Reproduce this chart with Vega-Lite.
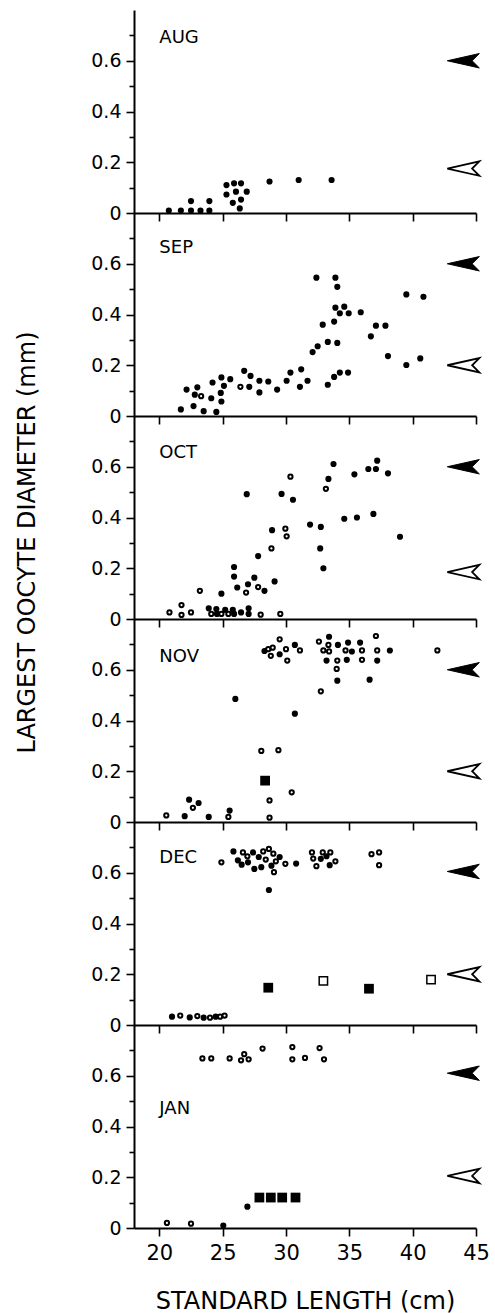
{
"$schema": "https://vega.github.io/schema/vega-lite/v6.json",
"bounds": "flush",
"spacing": 0,
"padding": {"left": 14, "top": 10, "right": 5, "bottom": 0},
"config": {"view": {"stroke": null}, "font": "DejaVu Sans",
 "axis": {"domainColor": "black", "domainWidth": 2, "tickColor": "black", "tickWidth": 1.6, "labelColor": "black", "titleColor": "black", "labelFont": "DejaVu Sans", "titleFont": "DejaVu Sans", "grid": false, "titleFontWeight": "normal"}},
"data": {"values": [
{"month":"AUG","sl":20.75,"od":0.01,"type":"f"},{"month":"AUG","sl":21.7,"od":0.01,"type":"f"},{"month":"AUG","sl":22.5,"od":0.047,"type":"f"},{"month":"AUG","sl":22.5,"od":0.01,"type":"f"},{"month":"AUG","sl":23.25,"od":0.01,"type":"f"},{"month":"AUG","sl":23.95,"od":0.047,"type":"f"},{"month":"AUG","sl":23.95,"od":0.01,"type":"f"},{"month":"AUG","sl":25.3,"od":0.11,"type":"f"},{"month":"AUG","sl":25.3,"od":0.073,"type":"f"},{"month":"AUG","sl":25.9,"od":0.117,"type":"f"},{"month":"AUG","sl":26.45,"od":0.117,"type":"f"},{"month":"AUG","sl":26.05,"od":0.084,"type":"f"},{"month":"AUG","sl":26.9,"od":0.084,"type":"f"},{"month":"AUG","sl":25.8,"od":0.04,"type":"f"},{"month":"AUG","sl":26.45,"od":0.053,"type":"f"},{"month":"AUG","sl":26.35,"od":0.018,"type":"f"},{"month":"AUG","sl":28.7,"od":0.124,"type":"f"},{"month":"AUG","sl":31.0,"od":0.13,"type":"f"},{"month":"AUG","sl":33.6,"od":0.13,"type":"f"},
{"month":"AUG","sl":44,"od":0.6,"type":"a"},{"month":"AUG","sl":44,"od":0.175,"type":"b"},{"month":"AUG","sl":20,"od":0.69,"type":"lab"},
{"month":"SEP","sl":21.7,"od":0.026,"type":"f"},{"month":"SEP","sl":22.15,"od":0.104,"type":"f"},{"month":"SEP","sl":22.7,"od":0.039,"type":"f"},{"month":"SEP","sl":23.0,"od":0.113,"type":"f"},{"month":"SEP","sl":22.8,"od":0.084,"type":"f"},{"month":"SEP","sl":23.3,"od":0.078,"type":"o"},{"month":"SEP","sl":23.5,"od":0.019,"type":"f"},{"month":"SEP","sl":24.1,"od":0.07,"type":"f"},{"month":"SEP","sl":24.2,"od":0.132,"type":"f"},{"month":"SEP","sl":24.5,"od":0.016,"type":"f"},{"month":"SEP","sl":24.85,"od":0.091,"type":"f"},{"month":"SEP","sl":24.9,"od":0.152,"type":"f"},{"month":"SEP","sl":24.9,"od":0.057,"type":"f"},{"month":"SEP","sl":25.1,"od":0.119,"type":"f"},{"month":"SEP","sl":25.6,"od":0.145,"type":"f"},{"month":"SEP","sl":26.4,"od":0.115,"type":"o"},{"month":"SEP","sl":26.7,"od":0.178,"type":"f"},{"month":"SEP","sl":27.2,"od":0.158,"type":"f"},{"month":"SEP","sl":27.1,"od":0.115,"type":"f"},{"month":"SEP","sl":27.9,"od":0.139,"type":"f"},{"month":"SEP","sl":27.9,"od":0.093,"type":"f"},{"month":"SEP","sl":28.6,"od":0.136,"type":"f"},{"month":"SEP","sl":29.3,"od":0.104,"type":"f"},{"month":"SEP","sl":30.05,"od":0.139,"type":"f"},{"month":"SEP","sl":30.35,"od":0.171,"type":"f"},{"month":"SEP","sl":31.1,"od":0.115,"type":"f"},{"month":"SEP","sl":31.2,"od":0.184,"type":"f"},{"month":"SEP","sl":31.7,"od":0.139,"type":"f"},{"month":"SEP","sl":32.1,"od":0.252,"type":"f"},{"month":"SEP","sl":32.5,"od":0.275,"type":"f"},{"month":"SEP","sl":32.4,"od":0.545,"type":"f"},{"month":"SEP","sl":32.9,"od":0.36,"type":"f"},{"month":"SEP","sl":33.3,"od":0.123,"type":"f"},{"month":"SEP","sl":33.3,"od":0.292,"type":"f"},{"month":"SEP","sl":33.8,"od":0.372,"type":"f"},{"month":"SEP","sl":33.8,"od":0.154,"type":"f"},{"month":"SEP","sl":33.9,"od":0.545,"type":"f"},{"month":"SEP","sl":34.05,"od":0.509,"type":"f"},{"month":"SEP","sl":34.05,"od":0.288,"type":"f"},{"month":"SEP","sl":33.9,"od":0.427,"type":"f"},{"month":"SEP","sl":34.25,"od":0.171,"type":"f"},{"month":"SEP","sl":34.25,"od":0.405,"type":"f"},{"month":"SEP","sl":34.6,"od":0.431,"type":"f"},{"month":"SEP","sl":34.95,"od":0.405,"type":"f"},{"month":"SEP","sl":34.9,"od":0.171,"type":"f"},{"month":"SEP","sl":35.9,"od":0.409,"type":"f"},{"month":"SEP","sl":36.7,"od":0.314,"type":"f"},{"month":"SEP","sl":37.1,"od":0.356,"type":"f"},{"month":"SEP","sl":37.85,"od":0.356,"type":"f"},{"month":"SEP","sl":38.05,"od":0.236,"type":"f"},{"month":"SEP","sl":39.5,"od":0.479,"type":"f"},{"month":"SEP","sl":39.5,"od":0.201,"type":"f"},{"month":"SEP","sl":40.6,"od":0.227,"type":"f"},{"month":"SEP","sl":40.85,"od":0.47,"type":"f"},
{"month":"SEP","sl":44,"od":0.6,"type":"a"},{"month":"SEP","sl":44,"od":0.2,"type":"b"},{"month":"SEP","sl":20,"od":0.664,"type":"lab"},
{"month":"OCT","sl":20.8,"od":0.026,"type":"o"},{"month":"OCT","sl":21.75,"od":0.055,"type":"o"},{"month":"OCT","sl":21.75,"od":0.016,"type":"o"},{"month":"OCT","sl":22.5,"od":0.026,"type":"o"},{"month":"OCT","sl":23.2,"od":0.111,"type":"o"},{"month":"OCT","sl":26.85,"od":0.104,"type":"o"},{"month":"OCT","sl":27.8,"od":0.126,"type":"o"},{"month":"OCT","sl":28.85,"od":0.278,"type":"o"},{"month":"OCT","sl":29.95,"od":0.356,"type":"o"},{"month":"OCT","sl":30.05,"od":0.326,"type":"o"},{"month":"OCT","sl":30.35,"od":0.561,"type":"o"},{"month":"OCT","sl":33.15,"od":0.513,"type":"o"},{"month":"OCT","sl":24.1,"od":0.02,"type":"o"},{"month":"OCT","sl":24.9,"od":0.02,"type":"o"},{"month":"OCT","sl":25.45,"od":0.02,"type":"o"},{"month":"OCT","sl":28.0,"od":0.017,"type":"o"},{"month":"OCT","sl":29.55,"od":0.02,"type":"o"},
{"month":"OCT","sl":23.9,"od":0.042,"type":"f"},{"month":"OCT","sl":24.5,"od":0.039,"type":"f"},{"month":"OCT","sl":24.55,"od":0.02,"type":"f"},{"month":"OCT","sl":25.2,"od":0.036,"type":"f"},{"month":"OCT","sl":25.8,"od":0.036,"type":"f"},{"month":"OCT","sl":25.9,"od":0.02,"type":"f"},{"month":"OCT","sl":26.45,"od":0.026,"type":"f"},{"month":"OCT","sl":27.05,"od":0.042,"type":"f"},{"month":"OCT","sl":27.05,"od":0.02,"type":"f"},{"month":"OCT","sl":24.9,"od":0.1,"type":"f"},{"month":"OCT","sl":25.9,"od":0.205,"type":"f"},{"month":"OCT","sl":25.9,"od":0.167,"type":"f"},{"month":"OCT","sl":26.15,"od":0.124,"type":"f"},{"month":"OCT","sl":27.0,"od":0.137,"type":"f"},{"month":"OCT","sl":26.9,"od":0.492,"type":"f"},{"month":"OCT","sl":27.5,"od":0.163,"type":"f"},{"month":"OCT","sl":27.8,"od":0.248,"type":"f"},{"month":"OCT","sl":28.3,"od":0.111,"type":"f"},{"month":"OCT","sl":28.9,"od":0.35,"type":"f"},{"month":"OCT","sl":29.1,"od":0.148,"type":"f"},{"month":"OCT","sl":29.65,"od":0.493,"type":"f"},{"month":"OCT","sl":30.55,"od":0.47,"type":"f"},{"month":"OCT","sl":31.9,"od":0.372,"type":"f"},{"month":"OCT","sl":32.7,"od":0.278,"type":"f"},{"month":"OCT","sl":32.75,"od":0.363,"type":"f"},{"month":"OCT","sl":32.95,"od":0.2,"type":"f"},{"month":"OCT","sl":33.35,"od":0.552,"type":"f"},{"month":"OCT","sl":33.75,"od":0.611,"type":"f"},{"month":"OCT","sl":34.6,"od":0.395,"type":"f"},{"month":"OCT","sl":35.4,"od":0.57,"type":"f"},{"month":"OCT","sl":35.6,"od":0.4,"type":"f"},{"month":"OCT","sl":36.5,"od":0.591,"type":"f"},{"month":"OCT","sl":36.9,"od":0.414,"type":"f"},{"month":"OCT","sl":37.1,"od":0.591,"type":"f"},{"month":"OCT","sl":37.2,"od":0.624,"type":"f"},{"month":"OCT","sl":38.05,"od":0.574,"type":"f"},{"month":"OCT","sl":39.0,"od":0.324,"type":"f"},
{"month":"OCT","sl":44,"od":0.6,"type":"a"},{"month":"OCT","sl":44,"od":0.185,"type":"b"},{"month":"OCT","sl":20,"od":0.655,"type":"lab"},
{"month":"NOV","sl":22.0,"od":0.023,"type":"f"},{"month":"NOV","sl":22.35,"od":0.088,"type":"f"},{"month":"NOV","sl":23.1,"od":0.075,"type":"f"},{"month":"NOV","sl":23.9,"od":0.02,"type":"f"},{"month":"NOV","sl":25.55,"od":0.045,"type":"f"},{"month":"NOV","sl":26.0,"od":0.485,"type":"f"},{"month":"NOV","sl":30.7,"od":0.427,"type":"f"},{"month":"NOV","sl":34.05,"od":0.557,"type":"f"},{"month":"NOV","sl":36.6,"od":0.561,"type":"f"},{"month":"NOV","sl":28.3,"od":0.674,"type":"f"},{"month":"NOV","sl":29.5,"od":0.661,"type":"f"},{"month":"NOV","sl":30.7,"od":0.698,"type":"f"},{"month":"NOV","sl":33.4,"od":0.73,"type":"f"},{"month":"NOV","sl":34.1,"od":0.698,"type":"f"},{"month":"NOV","sl":33.2,"od":0.636,"type":"f"},{"month":"NOV","sl":34.8,"od":0.639,"type":"f"},{"month":"NOV","sl":34.9,"od":0.707,"type":"f"},{"month":"NOV","sl":35.2,"od":0.672,"type":"f"},{"month":"NOV","sl":35.85,"od":0.707,"type":"f"},{"month":"NOV","sl":37.2,"od":0.636,"type":"f"},{"month":"NOV","sl":38.2,"od":0.676,"type":"f"},
{"month":"NOV","sl":20.55,"od":0.026,"type":"o"},{"month":"NOV","sl":22.65,"od":0.056,"type":"o"},{"month":"NOV","sl":25.45,"od":0.02,"type":"o"},{"month":"NOV","sl":28.05,"od":0.28,"type":"o"},{"month":"NOV","sl":28.7,"od":0.085,"type":"o"},{"month":"NOV","sl":28.7,"od":0.017,"type":"o"},{"month":"NOV","sl":29.4,"od":0.283,"type":"o"},{"month":"NOV","sl":30.45,"od":0.117,"type":"o"},{"month":"NOV","sl":32.75,"od":0.515,"type":"o"},{"month":"NOV","sl":34.0,"od":0.603,"type":"o"},{"month":"NOV","sl":28.6,"od":0.681,"type":"o"},{"month":"NOV","sl":28.95,"od":0.687,"type":"o"},{"month":"NOV","sl":28.8,"od":0.655,"type":"o"},{"month":"NOV","sl":29.5,"od":0.72,"type":"o"},{"month":"NOV","sl":30.0,"od":0.681,"type":"o"},{"month":"NOV","sl":30.1,"od":0.636,"type":"o"},{"month":"NOV","sl":31.1,"od":0.676,"type":"o"},{"month":"NOV","sl":32.6,"od":0.711,"type":"o"},{"month":"NOV","sl":33.35,"od":0.698,"type":"o"},{"month":"NOV","sl":32.95,"od":0.676,"type":"o"},{"month":"NOV","sl":33.4,"od":0.672,"type":"o"},{"month":"NOV","sl":34.05,"od":0.636,"type":"o"},{"month":"NOV","sl":34.7,"od":0.676,"type":"o"},{"month":"NOV","sl":36.0,"od":0.676,"type":"o"},{"month":"NOV","sl":36.0,"od":0.639,"type":"o"},{"month":"NOV","sl":37.1,"od":0.733,"type":"o"},{"month":"NOV","sl":37.2,"od":0.676,"type":"o"},{"month":"NOV","sl":41.95,"od":0.676,"type":"o"},
{"month":"NOV","sl":28.35,"od":0.163,"type":"F"},
{"month":"NOV","sl":44,"od":0.6,"type":"a"},{"month":"NOV","sl":44,"od":0.2,"type":"b"},{"month":"NOV","sl":20,"od":0.65,"type":"lab"},
{"month":"DEC","sl":25.85,"od":0.684,"type":"f"},{"month":"DEC","sl":26.2,"od":0.649,"type":"f"},{"month":"DEC","sl":26.5,"od":0.632,"type":"f"},{"month":"DEC","sl":27.0,"od":0.641,"type":"f"},{"month":"DEC","sl":27.4,"od":0.68,"type":"f"},{"month":"DEC","sl":27.5,"od":0.615,"type":"f"},{"month":"DEC","sl":27.85,"od":0.662,"type":"f"},{"month":"DEC","sl":28.05,"od":0.622,"type":"f"},{"month":"DEC","sl":28.85,"od":0.628,"type":"f"},{"month":"DEC","sl":29.5,"od":0.662,"type":"f"},{"month":"DEC","sl":30.8,"od":0.636,"type":"f"},{"month":"DEC","sl":28.65,"od":0.532,"type":"f"},{"month":"DEC","sl":32.75,"od":0.655,"type":"f"},{"month":"DEC","sl":33.2,"od":0.665,"type":"f"},{"month":"DEC","sl":33.45,"od":0.63,"type":"f"},{"month":"DEC","sl":21.0,"od":0.033,"type":"f"},{"month":"DEC","sl":22.4,"od":0.03,"type":"f"},{"month":"DEC","sl":23.5,"od":0.029,"type":"f"},{"month":"DEC","sl":24.45,"od":0.033,"type":"f"},
{"month":"DEC","sl":24.9,"od":0.641,"type":"o"},{"month":"DEC","sl":26.6,"od":0.68,"type":"o"},{"month":"DEC","sl":26.95,"od":0.665,"type":"o"},{"month":"DEC","sl":28.2,"od":0.684,"type":"o"},{"month":"DEC","sl":28.4,"od":0.652,"type":"o"},{"month":"DEC","sl":28.65,"od":0.694,"type":"o"},{"month":"DEC","sl":29.0,"od":0.675,"type":"o"},{"month":"DEC","sl":29.2,"od":0.645,"type":"o"},{"month":"DEC","sl":29.05,"od":0.602,"type":"o"},{"month":"DEC","sl":29.95,"od":0.635,"type":"o"},{"month":"DEC","sl":32.05,"od":0.68,"type":"o"},{"month":"DEC","sl":32.15,"od":0.656,"type":"o"},{"month":"DEC","sl":32.4,"od":0.626,"type":"o"},{"month":"DEC","sl":32.9,"od":0.68,"type":"o"},{"month":"DEC","sl":33.5,"od":0.68,"type":"o"},{"month":"DEC","sl":33.9,"od":0.645,"type":"o"},{"month":"DEC","sl":36.75,"od":0.673,"type":"o"},{"month":"DEC","sl":37.35,"od":0.68,"type":"o"},{"month":"DEC","sl":37.35,"od":0.63,"type":"o"},{"month":"DEC","sl":21.65,"od":0.037,"type":"o"},{"month":"DEC","sl":23.0,"od":0.035,"type":"o"},{"month":"DEC","sl":24.0,"od":0.029,"type":"o"},{"month":"DEC","sl":24.8,"od":0.033,"type":"o"},{"month":"DEC","sl":25.15,"od":0.037,"type":"o"},
{"month":"DEC","sl":28.6,"od":0.147,"type":"F"},{"month":"DEC","sl":36.55,"od":0.143,"type":"F"},{"month":"DEC","sl":32.95,"od":0.174,"type":"O"},{"month":"DEC","sl":41.45,"od":0.179,"type":"O"},
{"month":"DEC","sl":44,"od":0.605,"type":"a"},{"month":"DEC","sl":44,"od":0.2,"type":"b"},{"month":"DEC","sl":20,"od":0.66,"type":"lab"},
{"month":"JAN","sl":23.4,"od":0.668,"type":"o"},{"month":"JAN","sl":24.1,"od":0.668,"type":"o"},{"month":"JAN","sl":25.55,"od":0.668,"type":"o"},{"month":"JAN","sl":26.45,"od":0.661,"type":"o"},{"month":"JAN","sl":26.7,"od":0.685,"type":"o"},{"month":"JAN","sl":27.05,"od":0.665,"type":"o"},{"month":"JAN","sl":28.15,"od":0.707,"type":"o"},{"month":"JAN","sl":30.5,"od":0.713,"type":"o"},{"month":"JAN","sl":30.5,"od":0.665,"type":"o"},{"month":"JAN","sl":31.5,"od":0.67,"type":"o"},{"month":"JAN","sl":32.65,"od":0.709,"type":"o"},{"month":"JAN","sl":33.0,"od":0.665,"type":"o"},{"month":"JAN","sl":20.6,"od":0.02,"type":"o"},{"month":"JAN","sl":22.5,"od":0.017,"type":"o"},
{"month":"JAN","sl":25.05,"od":0.01,"type":"f"},{"month":"JAN","sl":26.95,"od":0.084,"type":"f"},
{"month":"JAN","sl":27.9,"od":0.12,"type":"F"},{"month":"JAN","sl":28.8,"od":0.12,"type":"F"},{"month":"JAN","sl":29.7,"od":0.12,"type":"F"},{"month":"JAN","sl":30.75,"od":0.12,"type":"F"},
{"month":"JAN","sl":44,"od":0.61,"type":"a"},{"month":"JAN","sl":44,"od":0.205,"type":"b"},{"month":"JAN","sl":20,"od":0.47,"type":"lab"}
]},
"vconcat": [
{"width": 342, "height": 203, "transform": [{"filter": "datum.month == 'AUG'"}],
 "encoding": {
  "x": {"field": "sl", "type": "quantitative", "scale": {"domain": [18, 45], "nice": false, "zero": false}, "axis": {"values": [20, 25, 30, 35, 40, 45], "labels": false, "title": null, "tickSize": 8}},
  "y": {"field": "od", "type": "quantitative", "scale": {"domain": [0, 0.8], "nice": false, "zero": false}, "axis": {"values": [0, 0.1, 0.2, 0.3, 0.4, 0.5, 0.6, 0.7], "labelExpr": "datum.value == 0 ? '0' : (round(datum.value*10) % 2 == 0 ? format(datum.value, '.1f') : '')", "labelFontSize": 19, "labelPadding": 5, "tickSize": {"condition": {"test": "round(datum.value*10) % 2 == 0", "value": 8}, "value": 5}, "title": null, "labelOverlap": false, "labelFlush": false}}},
 "layer": [
  {"transform": [{"filter": "datum.type == 'f'"}], "mark": {"type": "point", "shape": "circle", "filled": true, "color": "black", "size": 38, "opacity": 1}},
  {"transform": [{"filter": "datum.type == 'o'"}], "mark": {"type": "point", "shape": "circle", "fill": "white", "stroke": "black", "strokeWidth": 2, "size": 18, "opacity": 1, "fillOpacity": 1}},
  {"transform": [{"filter": "datum.type == 'F'"}], "mark": {"type": "point", "shape": "square", "filled": true, "color": "black", "size": 95, "opacity": 1}},
  {"transform": [{"filter": "datum.type == 'O'"}], "mark": {"type": "point", "shape": "square", "fill": "white", "stroke": "black", "strokeWidth": 1.5, "size": 70, "opacity": 1, "fillOpacity": 1}},
  {"transform": [{"filter": "datum.type == 'a'"}], "mark": {"type": "point", "shape": "M-1,0L1,-0.45L0.55,0L1,0.45Z", "fill": "black", "stroke": "black", "strokeWidth": 1, "size": 1024, "opacity": 1, "fillOpacity": 1}},
  {"transform": [{"filter": "datum.type == 'b'"}], "mark": {"type": "point", "shape": "M-1,0L1,-0.45L0.55,0L1,0.45Z", "fill": "white", "stroke": "black", "strokeWidth": 1.8, "size": 1024, "opacity": 1, "fillOpacity": 1}},
  {"transform": [{"filter": "datum.type == 'lab'"}], "mark": {"type": "text", "align": "left", "baseline": "middle", "font": "DejaVu Sans", "fontSize": 18, "color": "black"}, "encoding": {"text": {"field": "month"}}}
 ]},
{"width": 342, "height": 203, "transform": [{"filter": "datum.month == 'SEP'"}],
 "encoding": {
  "x": {"field": "sl", "type": "quantitative", "scale": {"domain": [18, 45], "nice": false, "zero": false}, "axis": {"values": [20, 25, 30, 35, 40, 45], "labels": false, "title": null, "tickSize": 8}},
  "y": {"field": "od", "type": "quantitative", "scale": {"domain": [0, 0.8], "nice": false, "zero": false}, "axis": {"values": [0, 0.1, 0.2, 0.3, 0.4, 0.5, 0.6, 0.7], "labelExpr": "datum.value == 0 ? '0' : (round(datum.value*10) % 2 == 0 ? format(datum.value, '.1f') : '')", "labelFontSize": 19, "labelPadding": 5, "tickSize": {"condition": {"test": "round(datum.value*10) % 2 == 0", "value": 8}, "value": 5}, "title": null, "labelOverlap": false, "labelFlush": false}}},
 "layer": [
  {"transform": [{"filter": "datum.type == 'f'"}], "mark": {"type": "point", "shape": "circle", "filled": true, "color": "black", "size": 38, "opacity": 1}},
  {"transform": [{"filter": "datum.type == 'o'"}], "mark": {"type": "point", "shape": "circle", "fill": "white", "stroke": "black", "strokeWidth": 2, "size": 18, "opacity": 1, "fillOpacity": 1}},
  {"transform": [{"filter": "datum.type == 'F'"}], "mark": {"type": "point", "shape": "square", "filled": true, "color": "black", "size": 95, "opacity": 1}},
  {"transform": [{"filter": "datum.type == 'O'"}], "mark": {"type": "point", "shape": "square", "fill": "white", "stroke": "black", "strokeWidth": 1.5, "size": 70, "opacity": 1, "fillOpacity": 1}},
  {"transform": [{"filter": "datum.type == 'a'"}], "mark": {"type": "point", "shape": "M-1,0L1,-0.45L0.55,0L1,0.45Z", "fill": "black", "stroke": "black", "strokeWidth": 1, "size": 1024, "opacity": 1, "fillOpacity": 1}},
  {"transform": [{"filter": "datum.type == 'b'"}], "mark": {"type": "point", "shape": "M-1,0L1,-0.45L0.55,0L1,0.45Z", "fill": "white", "stroke": "black", "strokeWidth": 1.8, "size": 1024, "opacity": 1, "fillOpacity": 1}},
  {"transform": [{"filter": "datum.type == 'lab'"}], "mark": {"type": "text", "align": "left", "baseline": "middle", "font": "DejaVu Sans", "fontSize": 18, "color": "black"}, "encoding": {"text": {"field": "month"}}}
 ]},
{"width": 342, "height": 203, "transform": [{"filter": "datum.month == 'OCT'"}],
 "encoding": {
  "x": {"field": "sl", "type": "quantitative", "scale": {"domain": [18, 45], "nice": false, "zero": false}, "axis": {"values": [20, 25, 30, 35, 40, 45], "labels": false, "title": null, "tickSize": 8}},
  "y": {"field": "od", "type": "quantitative", "scale": {"domain": [0, 0.8], "nice": false, "zero": false}, "axis": {"values": [0, 0.1, 0.2, 0.3, 0.4, 0.5, 0.6, 0.7], "labelExpr": "datum.value == 0 ? '0' : (round(datum.value*10) % 2 == 0 ? format(datum.value, '.1f') : '')", "labelFontSize": 19, "labelPadding": 5, "tickSize": {"condition": {"test": "round(datum.value*10) % 2 == 0", "value": 8}, "value": 5}, "title": "LARGEST OOCYTE DIAMETER (mm)", "titleFontSize": 24, "titleX": -95, "titleY": 126, "labelOverlap": false, "labelFlush": false}}},
 "layer": [
  {"transform": [{"filter": "datum.type == 'f'"}], "mark": {"type": "point", "shape": "circle", "filled": true, "color": "black", "size": 38, "opacity": 1}},
  {"transform": [{"filter": "datum.type == 'o'"}], "mark": {"type": "point", "shape": "circle", "fill": "white", "stroke": "black", "strokeWidth": 2, "size": 18, "opacity": 1, "fillOpacity": 1}},
  {"transform": [{"filter": "datum.type == 'F'"}], "mark": {"type": "point", "shape": "square", "filled": true, "color": "black", "size": 95, "opacity": 1}},
  {"transform": [{"filter": "datum.type == 'O'"}], "mark": {"type": "point", "shape": "square", "fill": "white", "stroke": "black", "strokeWidth": 1.5, "size": 70, "opacity": 1, "fillOpacity": 1}},
  {"transform": [{"filter": "datum.type == 'a'"}], "mark": {"type": "point", "shape": "M-1,0L1,-0.45L0.55,0L1,0.45Z", "fill": "black", "stroke": "black", "strokeWidth": 1, "size": 1024, "opacity": 1, "fillOpacity": 1}},
  {"transform": [{"filter": "datum.type == 'b'"}], "mark": {"type": "point", "shape": "M-1,0L1,-0.45L0.55,0L1,0.45Z", "fill": "white", "stroke": "black", "strokeWidth": 1.8, "size": 1024, "opacity": 1, "fillOpacity": 1}},
  {"transform": [{"filter": "datum.type == 'lab'"}], "mark": {"type": "text", "align": "left", "baseline": "middle", "font": "DejaVu Sans", "fontSize": 18, "color": "black"}, "encoding": {"text": {"field": "month"}}}
 ]},
{"width": 342, "height": 203, "transform": [{"filter": "datum.month == 'NOV'"}],
 "encoding": {
  "x": {"field": "sl", "type": "quantitative", "scale": {"domain": [18, 45], "nice": false, "zero": false}, "axis": {"values": [20, 25, 30, 35, 40, 45], "labels": false, "title": null, "tickSize": 8}},
  "y": {"field": "od", "type": "quantitative", "scale": {"domain": [0, 0.8], "nice": false, "zero": false}, "axis": {"values": [0, 0.1, 0.2, 0.3, 0.4, 0.5, 0.6, 0.7], "labelExpr": "datum.value == 0 ? '0' : (round(datum.value*10) % 2 == 0 ? format(datum.value, '.1f') : '')", "labelFontSize": 19, "labelPadding": 5, "tickSize": {"condition": {"test": "round(datum.value*10) % 2 == 0", "value": 8}, "value": 5}, "title": null, "labelOverlap": false, "labelFlush": false}}},
 "layer": [
  {"transform": [{"filter": "datum.type == 'f'"}], "mark": {"type": "point", "shape": "circle", "filled": true, "color": "black", "size": 38, "opacity": 1}},
  {"transform": [{"filter": "datum.type == 'o'"}], "mark": {"type": "point", "shape": "circle", "fill": "white", "stroke": "black", "strokeWidth": 2, "size": 18, "opacity": 1, "fillOpacity": 1}},
  {"transform": [{"filter": "datum.type == 'F'"}], "mark": {"type": "point", "shape": "square", "filled": true, "color": "black", "size": 95, "opacity": 1}},
  {"transform": [{"filter": "datum.type == 'O'"}], "mark": {"type": "point", "shape": "square", "fill": "white", "stroke": "black", "strokeWidth": 1.5, "size": 70, "opacity": 1, "fillOpacity": 1}},
  {"transform": [{"filter": "datum.type == 'a'"}], "mark": {"type": "point", "shape": "M-1,0L1,-0.45L0.55,0L1,0.45Z", "fill": "black", "stroke": "black", "strokeWidth": 1, "size": 1024, "opacity": 1, "fillOpacity": 1}},
  {"transform": [{"filter": "datum.type == 'b'"}], "mark": {"type": "point", "shape": "M-1,0L1,-0.45L0.55,0L1,0.45Z", "fill": "white", "stroke": "black", "strokeWidth": 1.8, "size": 1024, "opacity": 1, "fillOpacity": 1}},
  {"transform": [{"filter": "datum.type == 'lab'"}], "mark": {"type": "text", "align": "left", "baseline": "middle", "font": "DejaVu Sans", "fontSize": 18, "color": "black"}, "encoding": {"text": {"field": "month"}}}
 ]},
{"width": 342, "height": 203, "transform": [{"filter": "datum.month == 'DEC'"}],
 "encoding": {
  "x": {"field": "sl", "type": "quantitative", "scale": {"domain": [18, 45], "nice": false, "zero": false}, "axis": {"values": [20, 25, 30, 35, 40, 45], "labels": false, "title": null, "tickSize": 8}},
  "y": {"field": "od", "type": "quantitative", "scale": {"domain": [0, 0.8], "nice": false, "zero": false}, "axis": {"values": [0, 0.1, 0.2, 0.3, 0.4, 0.5, 0.6, 0.7], "labelExpr": "datum.value == 0 ? '0' : (round(datum.value*10) % 2 == 0 ? format(datum.value, '.1f') : '')", "labelFontSize": 19, "labelPadding": 5, "tickSize": {"condition": {"test": "round(datum.value*10) % 2 == 0", "value": 8}, "value": 5}, "title": null, "labelOverlap": false, "labelFlush": false}}},
 "layer": [
  {"transform": [{"filter": "datum.type == 'f'"}], "mark": {"type": "point", "shape": "circle", "filled": true, "color": "black", "size": 38, "opacity": 1}},
  {"transform": [{"filter": "datum.type == 'o'"}], "mark": {"type": "point", "shape": "circle", "fill": "white", "stroke": "black", "strokeWidth": 2, "size": 18, "opacity": 1, "fillOpacity": 1}},
  {"transform": [{"filter": "datum.type == 'F'"}], "mark": {"type": "point", "shape": "square", "filled": true, "color": "black", "size": 95, "opacity": 1}},
  {"transform": [{"filter": "datum.type == 'O'"}], "mark": {"type": "point", "shape": "square", "fill": "white", "stroke": "black", "strokeWidth": 1.5, "size": 70, "opacity": 1, "fillOpacity": 1}},
  {"transform": [{"filter": "datum.type == 'a'"}], "mark": {"type": "point", "shape": "M-1,0L1,-0.45L0.55,0L1,0.45Z", "fill": "black", "stroke": "black", "strokeWidth": 1, "size": 1024, "opacity": 1, "fillOpacity": 1}},
  {"transform": [{"filter": "datum.type == 'b'"}], "mark": {"type": "point", "shape": "M-1,0L1,-0.45L0.55,0L1,0.45Z", "fill": "white", "stroke": "black", "strokeWidth": 1.8, "size": 1024, "opacity": 1, "fillOpacity": 1}},
  {"transform": [{"filter": "datum.type == 'lab'"}], "mark": {"type": "text", "align": "left", "baseline": "middle", "font": "DejaVu Sans", "fontSize": 18, "color": "black"}, "encoding": {"text": {"field": "month"}}}
 ]},
{"width": 342, "height": 203, "transform": [{"filter": "datum.month == 'JAN'"}],
 "encoding": {
  "x": {"field": "sl", "type": "quantitative", "scale": {"domain": [18, 45], "nice": false, "zero": false}, "axis": {"values": [20, 25, 30, 35, 40, 45], "labelFontSize": 21, "labelPadding": 6, "labelFlush": false, "tickSize": 8, "title": "STANDARD LENGTH (cm)", "titleFontSize": 24, "titlePadding": 26}},
  "y": {"field": "od", "type": "quantitative", "scale": {"domain": [0, 0.8], "nice": false, "zero": false}, "axis": {"values": [0, 0.1, 0.2, 0.3, 0.4, 0.5, 0.6, 0.7], "labelExpr": "datum.value == 0 ? '0' : (round(datum.value*10) % 2 == 0 ? format(datum.value, '.1f') : '')", "labelFontSize": 19, "labelPadding": 5, "tickSize": {"condition": {"test": "round(datum.value*10) % 2 == 0", "value": 8}, "value": 5}, "title": null, "labelOverlap": false, "labelFlush": false}}},
 "layer": [
  {"transform": [{"filter": "datum.type == 'f'"}], "mark": {"type": "point", "shape": "circle", "filled": true, "color": "black", "size": 38, "opacity": 1}},
  {"transform": [{"filter": "datum.type == 'o'"}], "mark": {"type": "point", "shape": "circle", "fill": "white", "stroke": "black", "strokeWidth": 2, "size": 18, "opacity": 1, "fillOpacity": 1}},
  {"transform": [{"filter": "datum.type == 'F'"}], "mark": {"type": "point", "shape": "square", "filled": true, "color": "black", "size": 95, "opacity": 1}},
  {"transform": [{"filter": "datum.type == 'O'"}], "mark": {"type": "point", "shape": "square", "fill": "white", "stroke": "black", "strokeWidth": 1.5, "size": 70, "opacity": 1, "fillOpacity": 1}},
  {"transform": [{"filter": "datum.type == 'a'"}], "mark": {"type": "point", "shape": "M-1,0L1,-0.45L0.55,0L1,0.45Z", "fill": "black", "stroke": "black", "strokeWidth": 1, "size": 1024, "opacity": 1, "fillOpacity": 1}},
  {"transform": [{"filter": "datum.type == 'b'"}], "mark": {"type": "point", "shape": "M-1,0L1,-0.45L0.55,0L1,0.45Z", "fill": "white", "stroke": "black", "strokeWidth": 1.8, "size": 1024, "opacity": 1, "fillOpacity": 1}},
  {"transform": [{"filter": "datum.type == 'lab'"}], "mark": {"type": "text", "align": "left", "baseline": "middle", "font": "DejaVu Sans", "fontSize": 18, "color": "black"}, "encoding": {"text": {"field": "month"}}}
 ]}
]
}
